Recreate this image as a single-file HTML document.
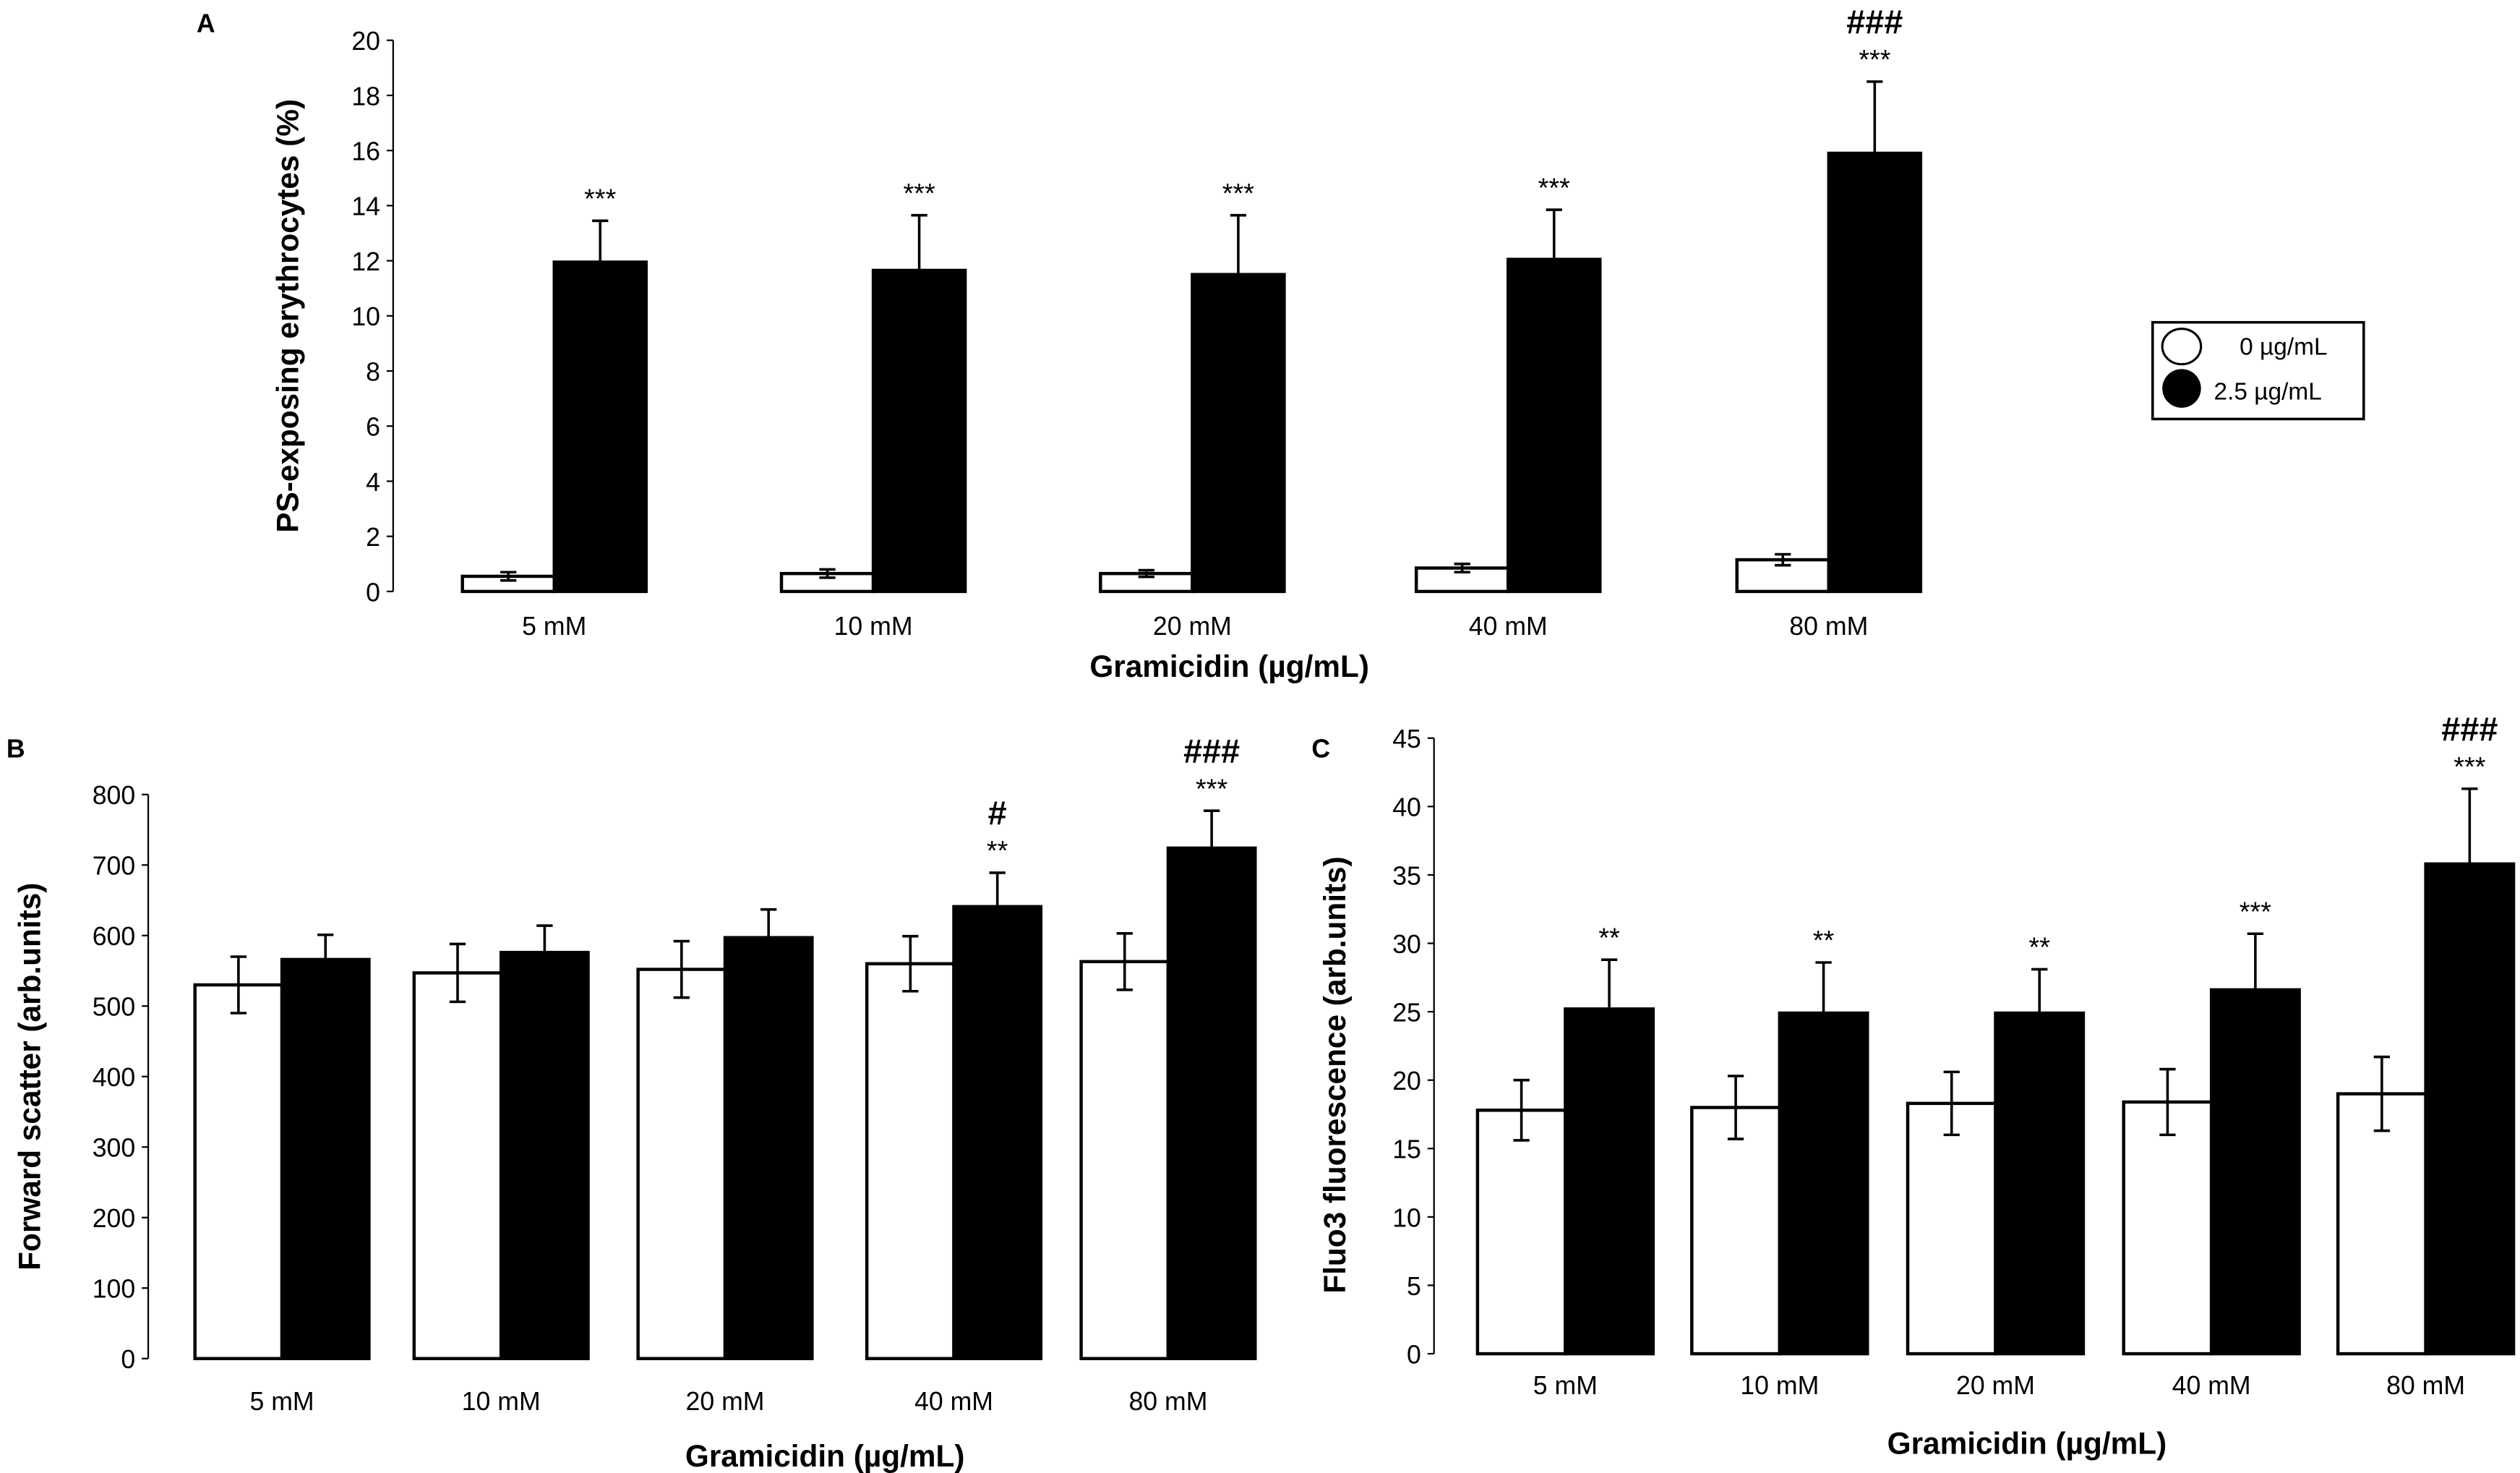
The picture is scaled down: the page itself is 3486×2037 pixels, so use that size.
<!DOCTYPE html>
<html><head><meta charset="utf-8">
<style>
html,body{margin:0;padding:0;background:#fff;}
svg{display:block;}
text{font-family:"Liberation Sans",sans-serif;fill:#000;}
</style></head>
<body>
<svg id="fig" width="3486" height="2037" viewBox="0 0 1564 914" preserveAspectRatio="none" xmlns="http://www.w3.org/2000/svg"></svg>
<script>
const categories = ["5 mM","10 mM","20 mM","40 mM","80 mM"];
// Panel A
const aWhite = [0.55,0.65,0.65,0.85,1.15];
const aWhiteErr = [0.15,0.15,0.12,0.15,0.2];
const aBlack = [11.95,11.65,11.5,12.05,15.9];
const aBlackErr = [1.5,2.0,2.15,1.8,2.6];
const aStars = ["***","***","***","***","***"];
const aHash = ["","","","","###"];
const aTicks = [0,2,4,6,8,10,12,14,16,18,20];
// Panel B
const bWhite = [530,547,552,560,563];
const bWhiteErr = [40,41,40,39,40];
const bBlack = [566,576,597,641,724];
const bBlackErr = [35,38,40,48,53];
const bStars = ["","","","**","***"];
const bHash = ["","","","#","###"];
const bTicks = [0,100,200,300,400,500,600,700,800];
// Panel C
const cWhite = [17.8,18.0,18.3,18.4,19.0];
const cWhiteErr = [2.2,2.3,2.3,2.4,2.7];
const cBlack = [25.2,24.9,24.9,26.6,35.8];
const cBlackErr = [3.6,3.7,3.2,4.1,5.5];
const cStars = ["**","**","**","***","***"];
const cHash = ["","","","","###"];
const cTicks = [0,5,10,15,20,25,30,35,40,45];

const NS="http://www.w3.org/2000/svg";
const svg=document.getElementById('fig');
function mk(tag,attrs,parent,txt){const e=document.createElementNS(NS,tag);for(const k in attrs)e.setAttribute(k,attrs[k]);if(txt!==undefined)e.textContent=txt;(parent||svg).appendChild(e);return e;}

function panel(cfg){
  const g=mk('g',{});
  
  
  const y=v=>cfg.y0-(v-cfg.ymin)/(cfg.ymax-cfg.ymin)*(cfg.y0-cfg.y1);
  // axis
  const ax=mk('line',{x1:cfg.ax,y1:cfg.y1,x2:cfg.ax,y2:cfg.y0,stroke:'#000','stroke-width':1},g);
  
  
  cfg.ticks.forEach(t=>{
    mk('line',{x1:cfg.ax-4,y1:y(t),x2:cfg.ax,y2:y(t),stroke:'#000','stroke-width':1},g);
    const tl=mk('text',{x:cfg.ax-8,y:y(t)+6,'font-size':16,'text-anchor':'end'},g,String(t));
    
    
  });
  categories.forEach((c,i)=>{
    const xw=cfg.starts[i], bw=cfg.bw;
    const wv=cfg.white[i], bv=cfg.black[i];
    // error bars (drawn behind)
    const we=mk('path',{d:`M${xw+bw/2},${y(wv-cfg.whiteErr[i])}V${y(wv+cfg.whiteErr[i])}M${xw+bw/2-5},${y(wv+cfg.whiteErr[i])}h10M${xw+bw/2-5},${y(wv-cfg.whiteErr[i])}h10`,stroke:'#000','stroke-width':1.6,fill:'none'},g);
    
    
    const wr=mk('rect',{x:xw,y:y(wv),width:bw,height:y(cfg.ymin)-y(wv),fill:'none',stroke:'#000','stroke-width':2},g);
    
    
    const br=mk('rect',{x:xw+bw,y:y(bv),width:bw,height:y(cfg.ymin)-y(bv),fill:'#000',stroke:'#000','stroke-width':2},g);
    
    
    const top=y(bv+cfg.blackErr[i]);
    const be=mk('path',{d:`M${xw+bw*1.5},${y(bv)}V${top}M${xw+bw*1.5-5},${top}h10`,stroke:'#000','stroke-width':1.6,fill:'none'},g);
    
    
    if(cfg.stars[i]){
      const s=mk('text',{x:xw+bw*1.5,y:top-8,'font-size':17,'text-anchor':'middle'},g,cfg.stars[i]);
      
      
    }
    if(cfg.hash[i]){
      const h=mk('text',{x:xw+bw*1.5,y:top-(cfg.stars[i]?30:10),'font-size':21,'font-weight':'bold','text-anchor':'middle'},g,cfg.hash[i]);
      
      
    }
    const cl=mk('text',{x:xw+bw,y:cfg.catY,'font-size':16,'text-anchor':'middle'},g,c);
    
    
  });
  const xt=mk('text',{x:cfg.xtX,y:cfg.xtY,'font-size':19,'font-weight':'bold','text-anchor':'middle'},g,'Gramicidin (µg/mL)');
  
  
  const yt=mk('text',{x:0,y:0,'font-size':19,'font-weight':'bold','text-anchor':'middle',transform:`translate(${cfg.ytX},${cfg.ytY}) rotate(-90)`},g,cfg.ytitle);
  
  
  const pl=mk('text',{x:cfg.lx,y:cfg.ly,'font-size':16,'font-weight':'bold'},g,cfg.letter);
  
  
}

panel({name:'panel-a',ax:244,y0:367,y1:25,ymin:0,ymax:20,ticks:aTicks,starts:[287,485,683,879,1078],bw:57,
  white:aWhite,whiteErr:aWhiteErr,black:aBlack,blackErr:aBlackErr,stars:aStars,hash:aHash,
  catY:394,xtX:763,xtY:420,ytX:185,ytY:196,ytitle:'PS-exposing erythrocytes (%)',letter:'A',lx:122,ly:20});
panel({name:'panel-b',ax:92,y0:843,y1:493,ymin:0,ymax:800,ticks:bTicks,starts:[121,257,396,538,671],bw:54,
  white:bWhite,whiteErr:bWhiteErr,black:bBlack,blackErr:bBlackErr,stars:bStars,hash:bHash,
  catY:875,xtX:512,xtY:910,ytX:25,ytY:668,ytitle:'Forward scatter (arb.units)',letter:'B',lx:4,ly:470});
panel({name:'panel-c',ax:890,y0:840,y1:458,ymin:0,ymax:45,ticks:cTicks,starts:[917,1050,1184,1318,1451],bw:54.5,
  white:cWhite,whiteErr:cWhiteErr,black:cBlack,blackErr:cBlackErr,stars:cStars,hash:cHash,
  catY:865,xtX:1258,xtY:902,ytX:835,ytY:667,ytitle:'Fluo3 fluorescence (arb.units)',letter:'C',lx:814,ly:470});

// legend
const lg=mk('g',{});


mk('rect',{x:1336,y:200,width:131,height:60,fill:'#fff',stroke:'#000','stroke-width':1.6},lg);
const le1=mk('g',{},lg);


mk('ellipse',{cx:1354,cy:215,rx:12,ry:11,fill:'#fff',stroke:'#000','stroke-width':1.4},le1);
mk('text',{x:1390,y:220,'font-size':15},le1,'0 µg/mL');
const le2=mk('g',{},lg);


mk('ellipse',{cx:1354,cy:241,rx:12,ry:12,fill:'#000'},le2);
mk('text',{x:1374,y:248,'font-size':15},le2,'2.5 µg/mL');
</script>
</body></html>
